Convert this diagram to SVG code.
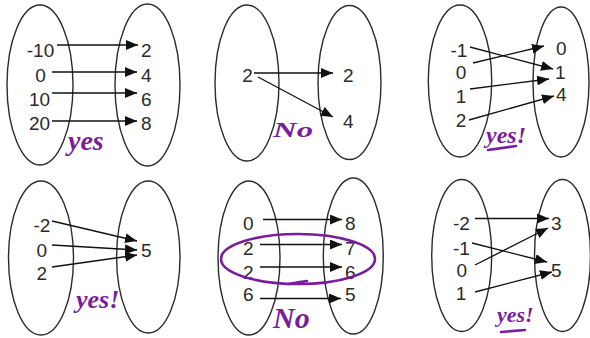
<svg xmlns="http://www.w3.org/2000/svg" width="590" height="338" viewBox="0 0 590 338">
<style>
.set{fill:none;stroke:#2b2b2b;stroke-width:1.4}
.num{font-family:"Liberation Sans",Arial,sans-serif;font-size:19px;fill:#2a2a2a}
.mid{text-anchor:middle}
.arr{stroke:#111;stroke-width:1.3;fill:none;marker-end:url(#ah)}
.hw{font-family:"Liberation Serif",serif;font-style:italic;font-weight:bold;fill:#7a1c9c}
.ink{fill:none;stroke:#7a1c9c;stroke-width:2.6;stroke-linecap:round}
</style>
<defs>
<marker id="ah" markerUnits="userSpaceOnUse" markerWidth="12" markerHeight="10" refX="12" refY="5" orient="auto">
<path d="M0,0 L12,5 L0,10 Z" fill="#111"/>
</marker>
</defs>
<rect width="590" height="338" fill="#fff"/>

<!-- Panel 1 -->
<g id="p1-domain">
<ellipse class="set" cx="40" cy="85" rx="33" ry="80"/>
<text class="num mid" x="40.5" y="57">-10</text>
<text class="num mid" x="40.5" y="81.5">0</text>
<text class="num mid" x="39.5" y="106">10</text>
<text class="num mid" x="39.5" y="130">20</text>
</g>
<g id="p1-range">
<ellipse class="set" cx="147.5" cy="85" rx="32.5" ry="81"/>
<text class="num" x="141" y="57">2</text>
<text class="num" x="141" y="81.5">4</text>
<text class="num" x="141" y="106">6</text>
<text class="num" x="141" y="130">8</text>
</g>

<!-- Panel 2 -->
<g id="p2-domain">
<ellipse class="set" cx="247" cy="83" rx="32" ry="78"/>
<text class="num mid" x="247.5" y="82">2</text>
</g>
<g id="p2-range">
<ellipse class="set" cx="349.5" cy="82.5" rx="31.5" ry="77"/>
<text class="num" x="343" y="82">2</text>
<text class="num" x="343" y="128">4</text>
</g>

<!-- Panel 3 -->
<g id="p3-domain">
<ellipse class="set" cx="460" cy="81" rx="31.7" ry="76"/>
<text class="num mid" x="459" y="57">-1</text>
<text class="num mid" x="461" y="78.5">0</text>
<text class="num mid" x="461" y="103">1</text>
<text class="num mid" x="461" y="127">2</text>
</g>
<g id="p3-range">
<ellipse class="set" cx="561" cy="82" rx="28" ry="75"/>
<text class="num" x="556" y="55">0</text>
<text class="num" x="555" y="79">1</text>
<text class="num" x="556" y="101">4</text>
</g>

<!-- Panel 4 -->
<g id="p4-domain">
<ellipse class="set" cx="41" cy="258" rx="32.5" ry="77"/>
<text class="num mid" x="42" y="232">-2</text>
<text class="num mid" x="41.7" y="257">0</text>
<text class="num mid" x="41.7" y="280">2</text>
</g>
<g id="p4-range">
<ellipse class="set" cx="148.3" cy="257" rx="31.7" ry="76"/>
<text class="num" x="141" y="257">5</text>
</g>

<!-- Panel 5 -->
<g id="p5-domain">
<ellipse class="set" cx="249" cy="258" rx="31" ry="77"/>
<text class="num mid" x="248.3" y="230">0</text>
<text class="num mid" x="248.3" y="255">2</text>
<text class="num mid" x="248.3" y="278.5">2</text>
<text class="num mid" x="248.3" y="300.5">6</text>
</g>
<g id="p5-range">
<ellipse class="set" cx="353.3" cy="256" rx="30" ry="78"/>
<text class="num" x="345" y="230">8</text>
<text class="num" x="345" y="255">7</text>
<text class="num" x="345" y="278.5">6</text>
<text class="num" x="345" y="300.5">5</text>
</g>

<!-- Panel 6 -->
<g id="p6-domain">
<ellipse class="set" cx="461.7" cy="255.5" rx="30" ry="76"/>
<text class="num mid" x="461.5" y="230">-2</text>
<text class="num mid" x="461.5" y="255">-1</text>
<text class="num mid" x="461.7" y="277">0</text>
<text class="num mid" x="461" y="300">1</text>
</g>
<g id="p6-range">
<ellipse class="set" cx="562.5" cy="255.5" rx="28" ry="76"/>
<text class="num" x="551" y="230">3</text>
<text class="num" x="551" y="277">5</text>
</g>

<g id="connectors">
<line class="arr" x1="57" y1="45" x2="138" y2="45"/>
<line class="arr" x1="52" y1="72" x2="137" y2="72"/>
<line class="arr" x1="52" y1="93" x2="137" y2="93"/>
<line class="arr" x1="52" y1="121" x2="137" y2="121"/>

<line class="arr" x1="254" y1="73" x2="333" y2="73"/>
<line class="arr" x1="258" y1="77" x2="333" y2="117"/>

<line class="arr" x1="470" y1="47" x2="553" y2="69"/>
<line class="arr" x1="473" y1="63" x2="544" y2="46"/>
<line class="arr" x1="470" y1="89" x2="549" y2="79"/>
<line class="arr" x1="469" y1="120" x2="554" y2="96"/>

<line class="arr" x1="52" y1="221" x2="137" y2="241"/>
<line class="arr" x1="52" y1="245" x2="137" y2="250"/>
<line class="arr" x1="52" y1="267" x2="137" y2="255"/>

<line class="arr" x1="263" y1="219.5" x2="342" y2="219.5"/>
<line class="arr" x1="260" y1="244.5" x2="342" y2="244.5"/>
<line class="arr" x1="260" y1="267" x2="342" y2="267"/>
<line class="arr" x1="260" y1="298.5" x2="341" y2="298.5"/>

<line class="arr" x1="475" y1="218.5" x2="549" y2="218.5"/>
<line class="arr" x1="472" y1="243" x2="547" y2="262"/>
<line class="arr" x1="475" y1="265" x2="548" y2="228"/>
<line class="arr" x1="475" y1="292" x2="552" y2="272"/>
</g>

<g id="annotations">
<text class="hw" x="68" y="150" font-size="28">yes</text>
<text class="hw" x="273" y="137" font-size="22" textLength="40" lengthAdjust="spacingAndGlyphs">No</text>
<text class="hw" x="486" y="143" font-size="24">yes!</text>
<path class="ink" d="M488 150 L516 146"/>
<text class="hw" x="76" y="308" font-size="26">yes!</text>
<ellipse class="ink" cx="298" cy="259" rx="77" ry="25"/>
<path class="ink" d="M289 284 Q298 282 307 281"/>
<text class="hw" x="273" y="328" font-size="30">No</text>
<text class="hw" x="497" y="322" font-size="22">yes!</text>
<path class="ink" d="M501 332 L525 330"/>
</g>
</svg>
